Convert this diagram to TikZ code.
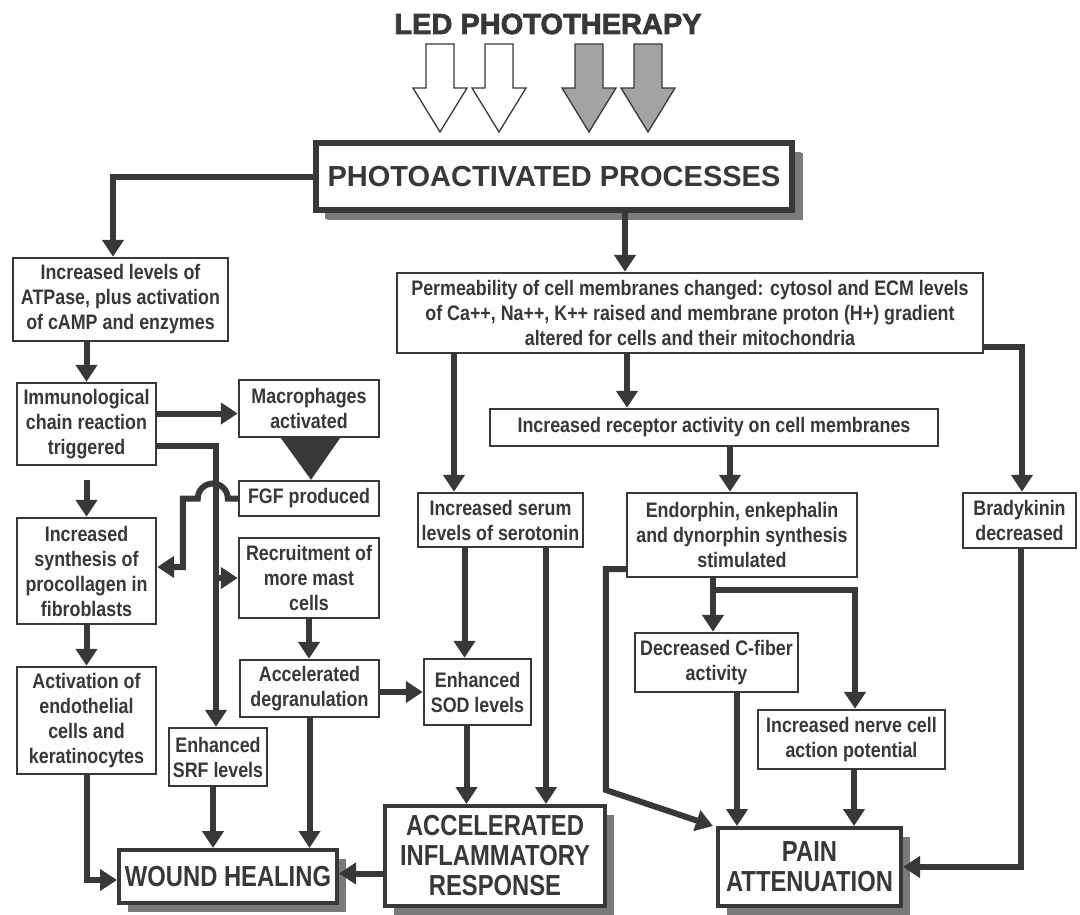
\documentclass[tikz,border=0pt]{standalone}
\usepackage{fontspec}
\setmainfont{Liberation Sans}
\newfontfamily\cond{Liberation Sans}[FakeStretch=0.85]
\newfontfamily\bigcond{Liberation Sans}[FakeStretch=0.82]
\newfontfamily\widefont{Liberation Sans}
\newfontfamily\heavy{Liberation Sans}[FakeBold=2.5]
\usetikzlibrary{arrows.meta,shadows}
\definecolor{ink}{HTML}{383838}
\definecolor{shade}{HTML}{7A7A7A}
\definecolor{boxfill}{HTML}{FDFDFD}
\definecolor{grayarrow}{HTML}{A3A3A3}
\begin{document}
\begin{tikzpicture}[x=1pt,y=-1pt,
 box/.style={draw=ink, line width=2.4pt, fill=boxfill, text=ink, align=center, inner sep=0pt,
   font=\cond\bfseries\fontsize{21}{25}\selectfont},
 big/.style={box, line width=4pt, font=\bigcond\bfseries\fontsize{29}{30}\selectfont,
   drop shadow={shadow xshift=9pt, shadow yshift=-9pt, fill=shade, opacity=1}},
 conn/.style={draw=ink, line width=6pt, -{Triangle[width=21pt,length=17pt]}},
 blockarrow/.style={draw=ink, line width=1.3pt},
]
\useasboundingbox (0,0) rectangle (1080,914);

% title and block arrows
\node[text=ink, font=\heavy\bfseries\fontsize{29}{30}\selectfont] (led) at (548,24) {LED PHOTOTHERAPY};
\foreach \cx/\col in {440/white, 499/white, 589/grayarrow, 648/grayarrow}
  \draw[blockarrow, fill=\col] (\cx-14,44) -- (\cx+14,44) -- (\cx+14,88) -- (\cx+27,88)
     -- (\cx,132) -- (\cx-27,88) -- (\cx-14,88) -- cycle;

% main box
\node[big, line width=6pt, minimum width=476pt, minimum height=67pt,
  drop shadow={shadow xshift=11pt, shadow yshift=-10pt, fill=shade, opacity=1},
  font=\widefont\bfseries\fontsize{29}{30}\selectfont] (photo) at (554,176.5) {PHOTOACTIVATED PROCESSES};

% left column
\node[box, minimum width=215pt, minimum height=83pt] (atp) at (120.5,299.5)
  {Increased levels of\\ATPase, plus activation\\of cAMP and enzymes};
\node[box, minimum width=139pt, minimum height=82pt] (immuno) at (86.5,424)
  {Immunological\\chain reaction\\triggered};
\node[box, minimum width=140pt, minimum height=57pt] (macro) at (309,408.5)
  {Macrophages\\activated};
\node[box, minimum width=140pt, minimum height=35pt] (fgf) at (309,498.5)
  {FGF produced};
\node[box, minimum width=139pt, minimum height=106pt] (proco) at (86.5,571)
  {Increased\\synthesis of\\procollagen in\\fibroblasts};
\node[box, minimum width=140pt, minimum height=80pt] (recruit) at (309,578)
  {Recruitment of\\more mast\\cells};
\node[box, minimum width=139pt, minimum height=107pt] (activ) at (86.5,720.5)
  {Activation of\\endothelial\\cells and\\keratinocytes};
\node[box, minimum width=98pt, minimum height=58pt] (srf) at (218,757)
  {Enhanced\\SRF levels};
\node[box, minimum width=139pt, minimum height=57pt] (degran) at (309.5,688.5)
  {Accelerated\\degranulation};
\node[big, minimum width=218pt, minimum height=53pt] (wound) at (228,876.5)
  {WOUND HEALING};

% middle and right
\node[box, minimum width=586pt, minimum height=80pt] (perm) at (690,313)
  {Permeability of cell membranes changed: cytosol and ECM levels\\of Ca++, Na++, K++ raised and membrane proton (H+) gradient\\altered for cells and their mitochondria};
\node[box, minimum width=448pt, minimum height=37pt] (recep) at (714,427.5)
  {Increased receptor activity on cell membranes};
\node[box, minimum width=165pt, minimum height=54pt] (sero) at (500.5,520)
  {Increased serum\\levels of serotonin};
\node[box, minimum width=230pt, minimum height=84pt] (endo) at (742,535)
  {Endorphin, enkephalin\\and dynorphin synthesis\\stimulated};
\node[box, minimum width=113pt, minimum height=55pt] (brady) at (1019.5,520.5)
  {Bradykinin\\decreased};
\node[box, minimum width=107pt, minimum height=66pt] (sod) at (477.5,692)
  {Enhanced\\SOD levels};
\node[big, minimum width=220pt, minimum height=100pt] (accel) at (495,856)
  {ACCELERATED\\INFLAMMATORY\\RESPONSE};
\node[box, minimum width=163pt, minimum height=59pt] (cfiber) at (716.5,662.5)
  {Decreased C-fiber\\activity};
\node[box, minimum width=187pt, minimum height=59pt] (nerve) at (851.5,739.5)
  {Increased nerve cell\\action potential};
\node[big, minimum width=183pt, minimum height=78pt] (pain) at (809.5,867)
  {PAIN\\ATTENUATION};

% connectors: left side
\draw[conn] (photo.west) -| ([xshift=-7.5pt]atp.north);
\draw[conn] (atp.south -| immuno.north) -- (immuno.north);
\draw[conn] ([yshift=-5pt]macro.west -| immuno.east) -- ([yshift=-5pt]macro.west);
\draw[conn] ([yshift=-22pt]immuno.east) -| ([xshift=-2pt]srf.north);
\draw[conn] ([xshift=-22pt]recruit.west) -- (recruit.west);
\fill[ink] ([xshift=-28pt]macro.south) -- ([xshift=31pt]macro.south) -- ([xshift=2pt]fgf.north) -- cycle;
\draw[conn] (fgf.west) -- ++(-10,0) arc[start angle=0, end angle=180, radius=15pt]
   -- ++(-15,0) |- ([yshift=4pt]proco.east);
\draw[conn] ([yshift=-14pt]immuno.south) -- (proco.north);
\draw[conn] (proco.south) -- (activ.north);
\draw[conn] (activ.south) |- ([yshift=-3.5pt]wound.west);
\draw[conn] ([xshift=-5pt]srf.south) -- ([xshift=-5pt]srf.south |- wound.north);
\draw[conn] (recruit.south) -- (recruit.south |- degran.north);
\draw[conn] (degran.south) -- (degran.south |- wound.north);
\draw[conn] (sod.west -| degran.east) -- (sod.west);
\draw[conn] ([xshift=-11pt]sod.south) -- ([xshift=-11pt]sod.south |- accel.north);
\draw[conn] ([xshift=-13pt]sod.north |- sero.south) -- ([xshift=-13pt]sod.north);
\draw[conn] ([xshift=45.5pt]sero.south) -- ([xshift=45.5pt]sero.south |- accel.north);
\draw[conn] ([yshift=3pt]wound.east -| accel.west) -- ([yshift=3pt]wound.east);

% connectors: right side
\draw[conn] ([xshift=71pt]photo.south) -- ([xshift=71pt]photo.south |- perm.north);
\draw[conn] ([xshift=-46.5pt]sero.north |- perm.south) -- ([xshift=-46.5pt]sero.north);
\draw[conn] ([xshift=-63pt]perm.south) -- ([xshift=-63pt]perm.south |- recep.north);
\draw[conn] ([xshift=16pt]recep.south) -- ([xshift=16pt]recep.south |- endo.north);
\draw[conn] ([yshift=-34pt]perm.east) -| ([xshift=2.5pt]brady.north);
\draw[conn] ([xshift=1.5pt]brady.south) |- (pain.east);
\draw[conn] ([yshift=-34pt]endo.west) -- ++(-20,0) -- ++(0,221) -- ([xshift=-3pt]pain.north west);
\draw[conn] ([xshift=-29pt]endo.south) -- ([xshift=-29pt]endo.south |- cfiber.north);
\draw[conn] ([xshift=-29pt,yshift=-12pt]endo.south) -| ([xshift=3.5pt]nerve.north);
\draw[conn] ([xshift=20.5pt]cfiber.south) -- ([xshift=20.5pt]cfiber.south |- pain.north);
\draw[conn] ([xshift=2.5pt]nerve.south) -- ([xshift=2.5pt]nerve.south |- pain.north);
\end{tikzpicture}
\end{document}
